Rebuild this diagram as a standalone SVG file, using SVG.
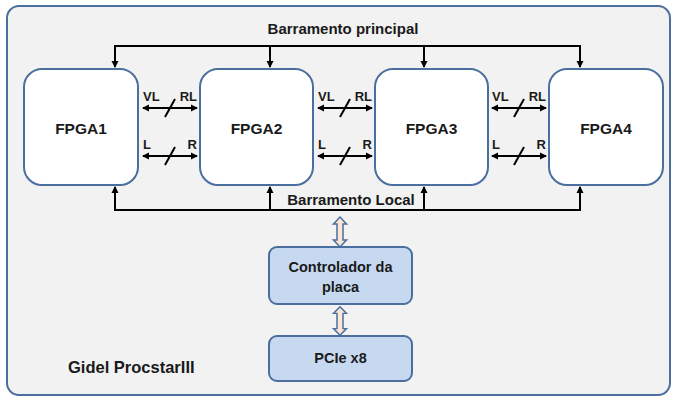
<svg xmlns="http://www.w3.org/2000/svg" width="675" height="398" viewBox="0 0 675 398">
<style>
text{font-family:"Liberation Sans",Arial,sans-serif;font-weight:bold;fill:#1a1a1a}
.fpga{fill:#fff;stroke:#4a6f9e;stroke-width:2}
.blue{fill:#c6d9f1;stroke:#4a6f9e;stroke-width:2}
.ln{stroke:#000;stroke-width:2;fill:none}
.hol{fill:#fbe5d6;stroke:#4a6f9e;stroke-width:1.5}
.lbl{font-size:13px}
</style>
<defs>
<marker id="ah" markerWidth="8" markerHeight="8" refX="6" refY="4" orient="auto-start-reverse" markerUnits="userSpaceOnUse">
<path d="M0,0.5 L7,4 L0,7.5 Z" fill="#000"/>
</marker>
<path id="dbl" d="M0,-15 L6.5,-8 L3,-8 L3,8 L6.5,8 L0,15 L-6.5,8 L-3,8 L-3,-8 L-6.5,-8 Z"/>
</defs>
<rect x="7" y="6" width="663" height="389" rx="12" fill="#f2f2f2" stroke="#4a6f9e" stroke-width="2"/>
<g id="connectors">
<path class="ln" d="M115,67 V46 H580 V67" marker-start="url(#ah)" marker-end="url(#ah)"/>
<path class="ln" d="M270,46 V67" marker-end="url(#ah)"/>
<path class="ln" d="M424,46 V67" marker-end="url(#ah)"/>
<path class="ln" d="M115,187 V210 H580 V187" marker-start="url(#ah)" marker-end="url(#ah)"/>
<path class="ln" d="M270,210 V187" marker-end="url(#ah)"/>
<path class="ln" d="M424,210 V187" marker-end="url(#ah)"/>
<g>
<path class="ln" d="M143,108 H197" marker-start="url(#ah)" marker-end="url(#ah)"/>
<path class="ln" d="M165,117 L175,99"/>
<path class="ln" d="M143,156 H197" marker-start="url(#ah)" marker-end="url(#ah)"/>
<path class="ln" d="M165,165 L175,147"/>
<text class="lbl" x="143" y="101">VL</text><text class="lbl" x="197" y="101" text-anchor="end">RL</text>
<text class="lbl" x="143" y="149">L</text><text class="lbl" x="197" y="149" text-anchor="end">R</text>
</g>
<g>
<path class="ln" d="M318,108 H372" marker-start="url(#ah)" marker-end="url(#ah)"/>
<path class="ln" d="M340,117 L350,99"/>
<path class="ln" d="M318,156 H372" marker-start="url(#ah)" marker-end="url(#ah)"/>
<path class="ln" d="M340,165 L350,147"/>
<text class="lbl" x="318" y="101">VL</text><text class="lbl" x="372" y="101" text-anchor="end">RL</text>
<text class="lbl" x="318" y="149">L</text><text class="lbl" x="372" y="149" text-anchor="end">R</text>
</g>
<g>
<path class="ln" d="M492,108 H546" marker-start="url(#ah)" marker-end="url(#ah)"/>
<path class="ln" d="M514,117 L524,99"/>
<path class="ln" d="M492,156 H546" marker-start="url(#ah)" marker-end="url(#ah)"/>
<path class="ln" d="M514,165 L524,147"/>
<text class="lbl" x="492" y="101">VL</text><text class="lbl" x="546" y="101" text-anchor="end">RL</text>
<text class="lbl" x="492" y="149">L</text><text class="lbl" x="546" y="149" text-anchor="end">R</text>
</g>
<use href="#dbl" class="hol" transform="translate(340,232)"/>
<use href="#dbl" class="hol" transform="translate(340,321) scale(1,0.95)"/>
</g>
<text x="343" y="34" font-size="15" text-anchor="middle">Barramento principal</text>
<text x="351" y="205" font-size="15" text-anchor="middle">Barramento Local</text>
<g id="fpga1"><rect class="fpga" x="24" y="69" width="114" height="116" rx="18"/><text x="81" y="134" font-size="15.5" text-anchor="middle">FPGA1</text></g>
<g id="fpga2"><rect class="fpga" x="200" y="69" width="113" height="116" rx="18"/><text x="256.5" y="134" font-size="15.5" text-anchor="middle">FPGA2</text></g>
<g id="fpga3"><rect class="fpga" x="375" y="69" width="113" height="116" rx="18"/><text x="431.5" y="134" font-size="15.5" text-anchor="middle">FPGA3</text></g>
<g id="fpga4"><rect class="fpga" x="549" y="69" width="114" height="116" rx="18"/><text x="606" y="134" font-size="15.5" text-anchor="middle">FPGA4</text></g>
<g id="controlador"><rect class="blue" x="269" y="247" width="143" height="57" rx="8"/><text x="340.5" y="272" font-size="14.5" text-anchor="middle">Controlador da</text><text x="340.5" y="292" font-size="14.5" text-anchor="middle">placa</text></g>
<g id="pcie"><rect class="blue" x="269" y="336" width="143" height="45" rx="8"/><text x="340.5" y="363" font-size="14.5" text-anchor="middle">PCIe x8</text></g>
<text x="68" y="373" font-size="16.5">Gidel ProcstarIII</text>
</svg>
